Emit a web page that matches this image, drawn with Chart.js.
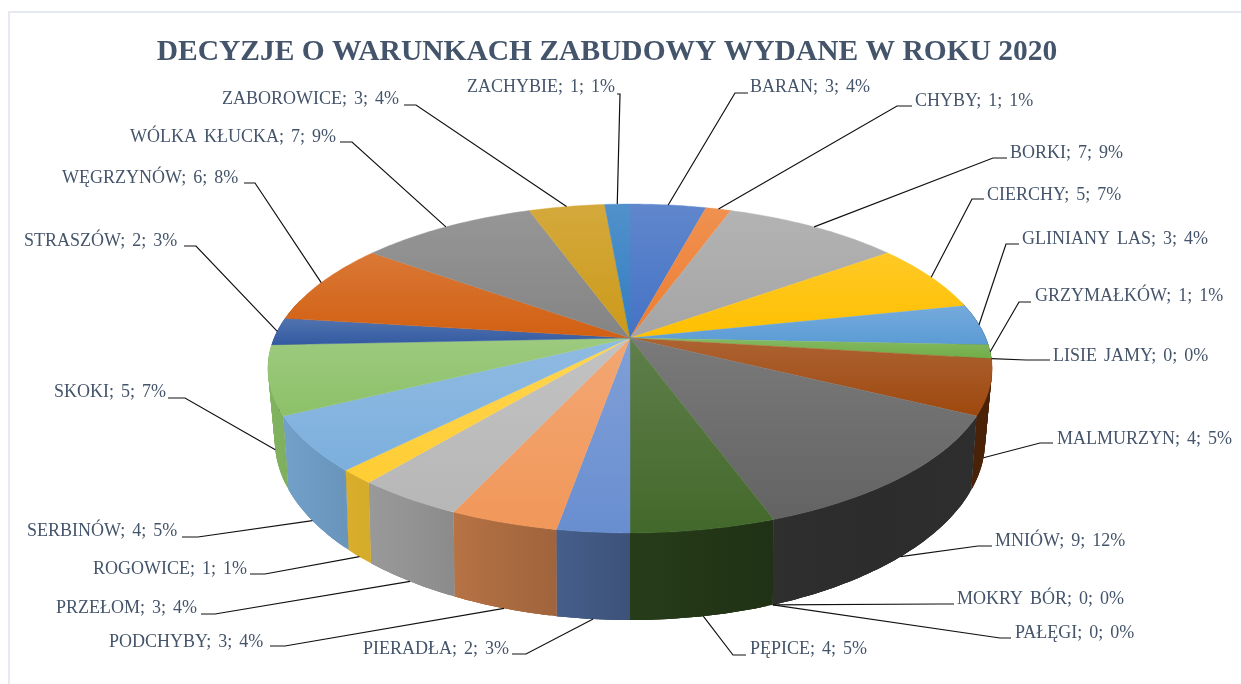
<!DOCTYPE html>
<html><head><meta charset="utf-8">
<style>
html,body{margin:0;padding:0;background:#fff;width:1241px;height:684px;overflow:hidden}
#frame{position:absolute;left:8px;top:11px;right:-5px;bottom:-5px;border-left:2px solid #E6E9EF;border-top:2px solid #E6E9EF}
#wrap{position:absolute;left:0;top:0;width:1241px;height:684px}
</style>
<script src="https://cdn.jsdelivr.net/npm/chart.js@4"></script>
</head><body><div id="frame"></div><div id="wrap"><canvas id="c" width="1241" height="684"></canvas></div>
<script>
const titleText = 'DECYZJE O WARUNKACH ZABUDOWY WYDANE W ROKU 2020';
const categories = ['BARAN','CHYBY','BORKI','CIERCHY','GLINIANY LAS','GRZYMAŁKÓW','LISIE JAMY','MALMURZYN','MNIÓW','MOKRY BÓR','PAŁĘGI','PĘPICE','PIERADŁA','PODCHYBY','PRZEŁOM','ROGOWICE','SERBINÓW','SKOKI','STRASZÓW','WĘGRZYNÓW','WÓLKA KŁUCKA','ZABOROWICE','ZACHYBIE'];
const values = [3,1,7,5,3,1,0,4,9,0,0,4,2,3,3,1,4,5,2,6,7,3,1];
const colors = ['#4472C4','#ED7D31','#A5A5A5','#FFC000','#5B9BD5','#70AD47','#264478','#9E480E','#636363','#997300','#255E91','#43682B','#698ED0','#F1975A','#B7B7B7','#FFCD33','#7CAFDD','#8CC168','#335AA1','#D26012','#848484','#CC9A1A','#327DC2'];

// label layout: text left x, text middle y, line start x, elbow x, line y
const labelLayout = [
 [750,87,748,735,93],[915,101,912,897,106],[1010,153,1007,993,158],[987,195,984,972,199],
 [1022,239,1019,1006,244],[1035,296,1031,1019,302],[1053,356,1050,1026,360],[1057,439,1053,1040,443],
 [995,541,992,978,546],[957,599,954,940,604],[1015,633,1011,1000,638],[750,649,746,733,655],
 [363,649,512,526,654],[109,642,270,285,646],[56,608,201,215,614],[93,569,250,265,574],
 [27,531,182,198,537],[54,392,168,185,398],[24,241,184,196,246],[62,178,244,255,183],
 [130,137,340,352,142],[222,99,404,416,105],[467,87,617,620,94]
];
const topDisk = {cx:630, cy:338, R:355.8, B:158.8, p:0.1854};
const botDisk = {cx:630, cy:404, R:348, B:172.8, p:0.2};
const shadeStops = [[-1,.92],[-.8,.85],[-.6,.8],[-.4,.72],[-.2,.66],[0,.58],[.3,.5],[.6,.44],[1,.47]];
const TEXT = '#44546A';

function project(a, d){
  const u = Math.cos(a), v = Math.sin(a), w = 1 - d.p*v;
  return [d.cx + d.R*u/w, d.cy + d.B*v/w];
}
function rgb(hex){ return [1,3,5].map(i=>parseInt(hex.substr(i,2),16)); }
function mixWhite(hex,t){ const c=rgb(hex).map(x=>Math.round(x+(255-x)*t)); return `rgb(${c})`; }
function shade(hex,f){ const c=rgb(hex).map(x=>Math.round(x*f)); return `rgb(${c})`; }
function shadeAt(u){
  for(let i=1;i<shadeStops.length;i++){
    if(u<=shadeStops[i][0]){
      const [u0,f0]=shadeStops[i-1],[u1,f1]=shadeStops[i];
      return f0+(f1-f0)*(u-u0)/(u1-u0);
    }
  }
  return shadeStops[shadeStops.length-1][1];
}
function samples(a0,a1){
  const n=Math.max(2,Math.ceil((a1-a0)/0.015)),out=[];
  for(let i=0;i<=n;i++) out.push(a0+(a1-a0)*i/n);
  return out;
}
const pie3d = {
  id:'pie3d',
  beforeDatasetsDraw(chart){
    const ctx=chart.ctx, arcs=chart.getDatasetMeta(0).data;
    // side wall
    arcs.forEach((el,i)=>{
      if(!values[i]) return;
      const as=samples(el.startAngle,el.endAngle).filter(a=>Math.sin(a)>-0.25);
      if(as.length<2) return;
      const T=as.map(a=>project(a,topDisk)),B=as.map(a=>project(a,botDisk));
      const xs=T.concat(B).map(p=>p[0]);
      const x0=Math.min(...xs),x1=Math.max(...xs);
      const g=ctx.createLinearGradient(x0,0,x1,0);
      for(let k=0;k<=4;k++){
        const x=x0+(x1-x0)*k/4;
        g.addColorStop(k/4,shade(colors[i],shadeAt((x-630)/355)));
      }
      ctx.fillStyle=g;
      const last=as.length-1;
      for(let k=0;k<last;k++){
        const e=Math.min(k+3,last);
        ctx.beginPath();
        ctx.moveTo(T[k][0],T[k][1]);
        for(let j=k+1;j<=e;j++) ctx.lineTo(T[j][0],T[j][1]);
        for(let j=e;j>=k;j--) ctx.lineTo(B[j][0],B[j][1]);
        ctx.closePath();ctx.fill();
      }
    });
    // top face
    arcs.forEach((el,i)=>{
      if(!values[i]) return;
      const P=samples(el.startAngle,el.endAngle).map(a=>project(a,topDisk));
      P.push([topDisk.cx,topDisk.cy]);
      const ys=P.map(p=>p[1]);
      const g=ctx.createLinearGradient(0,Math.min(...ys),0,Math.max(...ys));
      g.addColorStop(0,mixWhite(colors[i],.15));
      g.addColorStop(1,colors[i]);
      ctx.beginPath();
      P.forEach((p,k)=>k?ctx.lineTo(p[0],p[1]):ctx.moveTo(p[0],p[1]));
      ctx.closePath();
      ctx.fillStyle=g;ctx.fill();
      ctx.strokeStyle=g;ctx.lineWidth=.4;ctx.stroke();
    });
    // leaders and labels
    const total=values.reduce((s,x)=>s+x,0);
    arcs.forEach((el,i)=>{
      const mid=(el.startAngle+el.endAngle)/2;
      const L=labelLayout[i];
      const a=project(mid,Math.sin(mid)>0.2?botDisk:topDisk);
      ctx.beginPath();
      ctx.moveTo(L[2],L[4]);ctx.lineTo(L[3],L[4]);ctx.lineTo(a[0],a[1]);
      ctx.strokeStyle='#111';ctx.lineWidth=1.2;ctx.stroke();
      ctx.fillStyle=TEXT;
      ctx.font='18px "Liberation Serif"';
      ctx.textAlign='left';ctx.textBaseline='middle';
      ctx.wordSpacing='2.5px';
      ctx.fillText(`${categories[i]}; ${values[i]}; ${Math.round(values[i]/total*100)}%`,L[0],L[1]);
      ctx.wordSpacing='0px';
    });
    return false;
  }
};
new Chart(document.getElementById('c'),{
  type:'pie',
  data:{labels:categories,datasets:[{data:values,backgroundColor:colors,borderWidth:0}]},
  plugins:[pie3d],
  options:{
    responsive:false,animation:false,
    layout:{padding:{right:27,bottom:83}},
    plugins:{
      legend:{display:false},tooltip:{enabled:false},
      title:{display:true,text:titleText,color:TEXT,padding:{top:35,bottom:8},
        font:{family:'"Liberation Serif"',size:29.5,weight:'bold'}}
    }
  }
});
</script></body></html>
